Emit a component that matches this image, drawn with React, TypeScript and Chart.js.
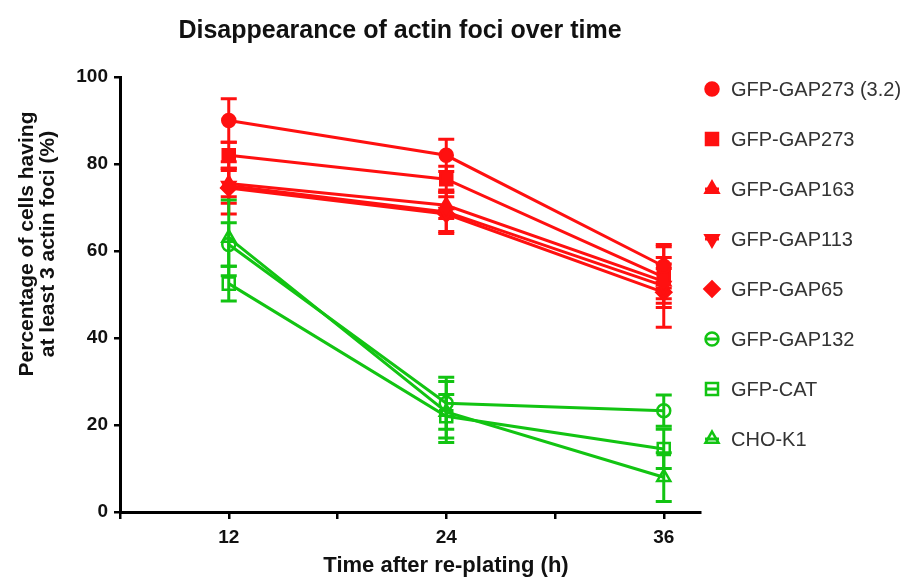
import React, { useEffect, useRef } from 'react';
import { Chart, registerables } from 'chart.js';
import { drawPoint } from 'chart.js/helpers';

Chart.register(...registerables);

// ---- data ----
const times = [12, 24, 36];
const xTickLabels = [12, 24, 36];
const yTicks = [0, 20, 40, 60, 80, 100];

const seriesNames = [
  'GFP-GAP273 (3.2)',
  'GFP-GAP273',
  'GFP-GAP163',
  'GFP-GAP113',
  'GFP-GAP65',
  'GFP-GAP132',
  'GFP-CAT',
  'CHO-K1',
];

const gap273_32 = [90, 82, 56.5];
const gap273 = [82, 76.5, 54];
const gap163 = [75.5, 70.5, 53];
const gap113 = [75, 69, 52];
const gap65 = [74.5, 68.5, 50.5];
const gap132 = [61.5, 25, 23.3];
const cat = [52.5, 22, 14.5];
const chok1 = [63, 23, 8];

const gap273_32Err = [5, 3.7, 5];
const gap273Err = [3, 3, 7];
const gap163Err = [3, 3, 4];
const gap113Err = [4, 5, 4];
const gap65Err = [6, 4, 8];
const gap132Err = [5, 6, 3.6];
const catErr = [4, 5, 4.5];
const chok1Err = [8.7, 7, 5.6];

const seriesValues = [gap273_32, gap273, gap163, gap113, gap65, gap132, cat, chok1];
const seriesErrors = [gap273_32Err, gap273Err, gap163Err, gap113Err, gap65Err, gap132Err, catErr, chok1Err];

// ---- styles ----
const RED = '#ff1010';
const GREEN = '#12c412';
const FONT = '"Liberation Sans", Arial, Helvetica, sans-serif';

const styles = [
  { color: RED, pointStyle: 'circle', rotation: 0, filled: true, radius: 6.5 },
  { color: RED, pointStyle: 'rect', rotation: 0, filled: true, radius: 8.5 },
  { color: RED, pointStyle: 'triangle', rotation: 0, filled: true, radius: 7.5 },
  { color: RED, pointStyle: 'triangle', rotation: 180, filled: true, radius: 7.5 },
  { color: RED, pointStyle: 'rectRot', rotation: 0, filled: true, radius: 7.5 },
  { color: GREEN, pointStyle: 'circle', rotation: 0, filled: false, radius: 6.5 },
  { color: GREEN, pointStyle: 'rect', rotation: 0, filled: false, radius: 8.5 },
  { color: GREEN, pointStyle: 'triangle', rotation: 0, filled: false, radius: 7.5 },
];

const errorBarPlugin = {
  id: 'errorBars',
  beforeDatasetsDraw(chart: any) {
    const { ctx, scales } = chart;
    const xs = scales.x;
    const ys = scales.y;
    chart.data.datasets.forEach((ds: any, i: number) => {
      const errs = seriesErrors[i];
      ctx.save();
      ctx.strokeStyle = ds.borderColor;
      ctx.lineWidth = 3;
      ds.data.forEach((pt: any, j: number) => {
        const px = xs.getPixelForValue(pt.x);
        const top = ys.getPixelForValue(pt.y + errs[j]);
        const bot = ys.getPixelForValue(pt.y - errs[j]);
        ctx.beginPath();
        ctx.moveTo(px, top);
        ctx.lineTo(px, bot);
        ctx.moveTo(px - 8, top);
        ctx.lineTo(px + 8, top);
        ctx.moveTo(px - 8, bot);
        ctx.lineTo(px + 8, bot);
        ctx.stroke();
      });
      ctx.restore();
    });
  },
};

const textPlugin = {
  id: 'texts',
  afterDraw(chart: any) {
    const { ctx } = chart;
    ctx.save();
    // main title
    ctx.fillStyle = '#111';
    ctx.font = `bold 25px ${FONT}`;
    ctx.textAlign = 'center';
    ctx.textBaseline = 'middle';
    ctx.fillText('Disappearance of actin foci over time', 400, 31);

    // x axis title
    ctx.font = `bold 22px ${FONT}`;
    ctx.fillText('Time after re-plating (h)', 446, 566);

    // y axis title
    ctx.save();
    ctx.translate(37, 244);
    ctx.rotate(-Math.PI / 2);
    ctx.font = `bold 21px ${FONT}`;
    ctx.fillText('Percentage of cells having', 0, -10);
    ctx.fillText('at least 3 actin foci (%)', 0, 11);
    ctx.restore();

    // legend
    seriesNames.forEach((name, i) => {
      const st = styles[i];
      const cy = 89 + i * 50;
      const cx = 712;
      ctx.save();
      ctx.strokeStyle = st.color;
      ctx.lineWidth = 3;
      ctx.beginPath();
      ctx.moveTo(cx - 7, cy);
      ctx.lineTo(cx + 7, cy);
      ctx.stroke();
      ctx.fillStyle = st.filled ? st.color : 'rgba(255,255,255,0)';
      ctx.lineWidth = 2.5;
      drawPoint(ctx, { pointStyle: st.pointStyle, rotation: st.rotation, radius: st.radius, borderWidth: 2.5 } as any, cx, cy);
      ctx.restore();
      ctx.fillStyle = '#333';
      ctx.font = `20px ${FONT}`;
      ctx.textAlign = 'left';
      ctx.textBaseline = 'middle';
      ctx.fillText(name, 731, cy + 1);
    });
    ctx.restore();
  },
};

export default function App() {
  const ref = useRef<HTMLCanvasElement | null>(null);

  useEffect(() => {
    document.body.style.margin = '0';
    const canvas = ref.current;
    if (!canvas) return;
    Chart.defaults.font.family = FONT;

    const datasets = seriesNames.map((name, i) => {
      const st = styles[i];
      return {
        label: name,
        data: times.map((t, j) => ({ x: t, y: seriesValues[i][j] })),
        borderColor: st.color,
        backgroundColor: st.filled ? st.color : 'rgba(255,255,255,0)',
        borderWidth: 3,
        pointStyle: st.pointStyle,
        pointRotation: st.rotation,
        pointRadius: st.radius,
        pointBorderWidth: 2.5,
        pointBackgroundColor: st.filled ? st.color : 'rgba(255,255,255,0)',
        pointBorderColor: st.color,
        tension: 0,
      };
    });

    const chart = new Chart(canvas, {
      type: 'line',
      data: { datasets } as any,
      options: {
        animation: false,
        responsive: false,
        layout: { padding: { top: 77, right: 204, left: 0, bottom: 0 } },
        plugins: {
          legend: { display: false },
          title: { display: false },
          tooltip: { enabled: false },
        },
        scales: {
          x: {
            type: 'linear',
            min: 6,
            max: 38,
            afterFit: (s: any) => { s.height = 69; },
            ticks: {
              stepSize: 6,
              includeBounds: false,
              autoSkip: false,
              maxRotation: 0,
              color: '#111',
              font: { size: 19, weight: 'bold' },
              padding: 7,
              callback: (v: any) => (xTickLabels.includes(v) ? String(v) : ''),
            },
            grid: { drawOnChartArea: false, drawTicks: true, tickLength: 7, color: '#000', lineWidth: 2.5 },
            border: { display: true, color: '#000', width: 3 },
          },
          y: {
            type: 'linear',
            min: 0,
            max: 100,
            afterFit: (s: any) => { s.width = 120; },
            afterBuildTicks: (s: any) => { s.ticks = yTicks.map((v) => ({ value: v })); },
            ticks: {
              color: '#111',
              font: { size: 19, weight: 'bold' },
              padding: 6,
            },
            grid: { drawOnChartArea: false, drawTicks: true, tickLength: 6, color: '#000', lineWidth: 2.5 },
            border: { display: true, color: '#000', width: 3 },
          },
        },
      } as any,
      plugins: [errorBarPlugin, textPlugin],
    });
    return () => chart.destroy();
  }, []);

  return (
    <div style={{ width: 904, height: 581 }}>
      <canvas ref={ref} width={904} height={581} />
    </div>
  );
}
